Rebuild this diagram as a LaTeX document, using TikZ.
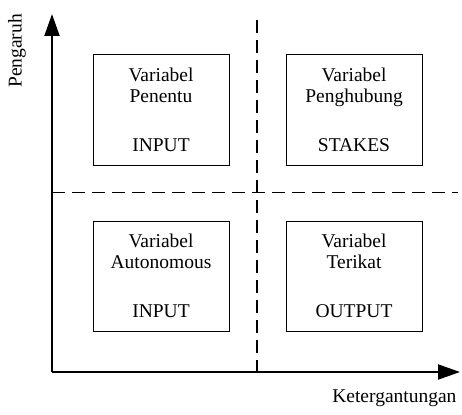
\documentclass[tikz,border=0pt]{standalone}
\usepackage{fontspec}
\setmainfont{Liberation Serif}
\usetikzlibrary{arrows.meta,positioning}

\begin{document}
\begin{tikzpicture}[x=1pt,y=-1pt,
	every node/.style={font=\fontsize{19.5}{21}\selectfont},
	varbox/.style={draw, line width=1pt, minimum width=136pt, minimum height=110pt, align=center, inner sep=0pt},
	axis/.style={line width=2pt, -{Triangle[length=22pt,width=15pt]}},
	divider/.style={line width=1.6pt, dash pattern=on 13pt off 7pt}]
			\useasboundingbox (0,0) rectangle (462,414);
			
			% quadrant dividers
			\coordinate (Vtop) at (257,20);
			\coordinate (Vbot) at (257,372);
			\coordinate (Hleft) at (52,192.5);
			\coordinate (Hright) at (458,192.5);
			\draw [divider] (Vtop) -- (Vbot);
			\draw [divider] (Hleft) -- (Hright);
			
			% axes
			\coordinate (O) at (52,372);
			\coordinate (Ytop) at (52,14);
			\coordinate (Xend) at (460,372);
			\draw [axis] (O) -- (Ytop);
			\draw [axis] (O) -- (Xend);
			\node [rotate=90] (Pengaruh) at (17,51) {Pengaruh};
			\node [anchor=base east] (Ketergantungan) at (460,402) {Ketergantungan};
			
			% variable boxes
			\node [varbox] (Penentu) at (161,110) {Variabel\\Penentu\\[28pt]INPUT};
			\node [varbox, right=56pt of Penentu] (Penghubung) {Variabel\\Penghubung\\[28pt]STAKES};
			\node [varbox, below=55pt of Penentu] (Autonomous) {Variabel\\Autonomous\\[28pt]INPUT};
			\node [varbox, below=55pt of Penghubung] (Terikat) {Variabel\\Terikat\\[28pt]OUTPUT};
		\end{tikzpicture}
\end{document}
